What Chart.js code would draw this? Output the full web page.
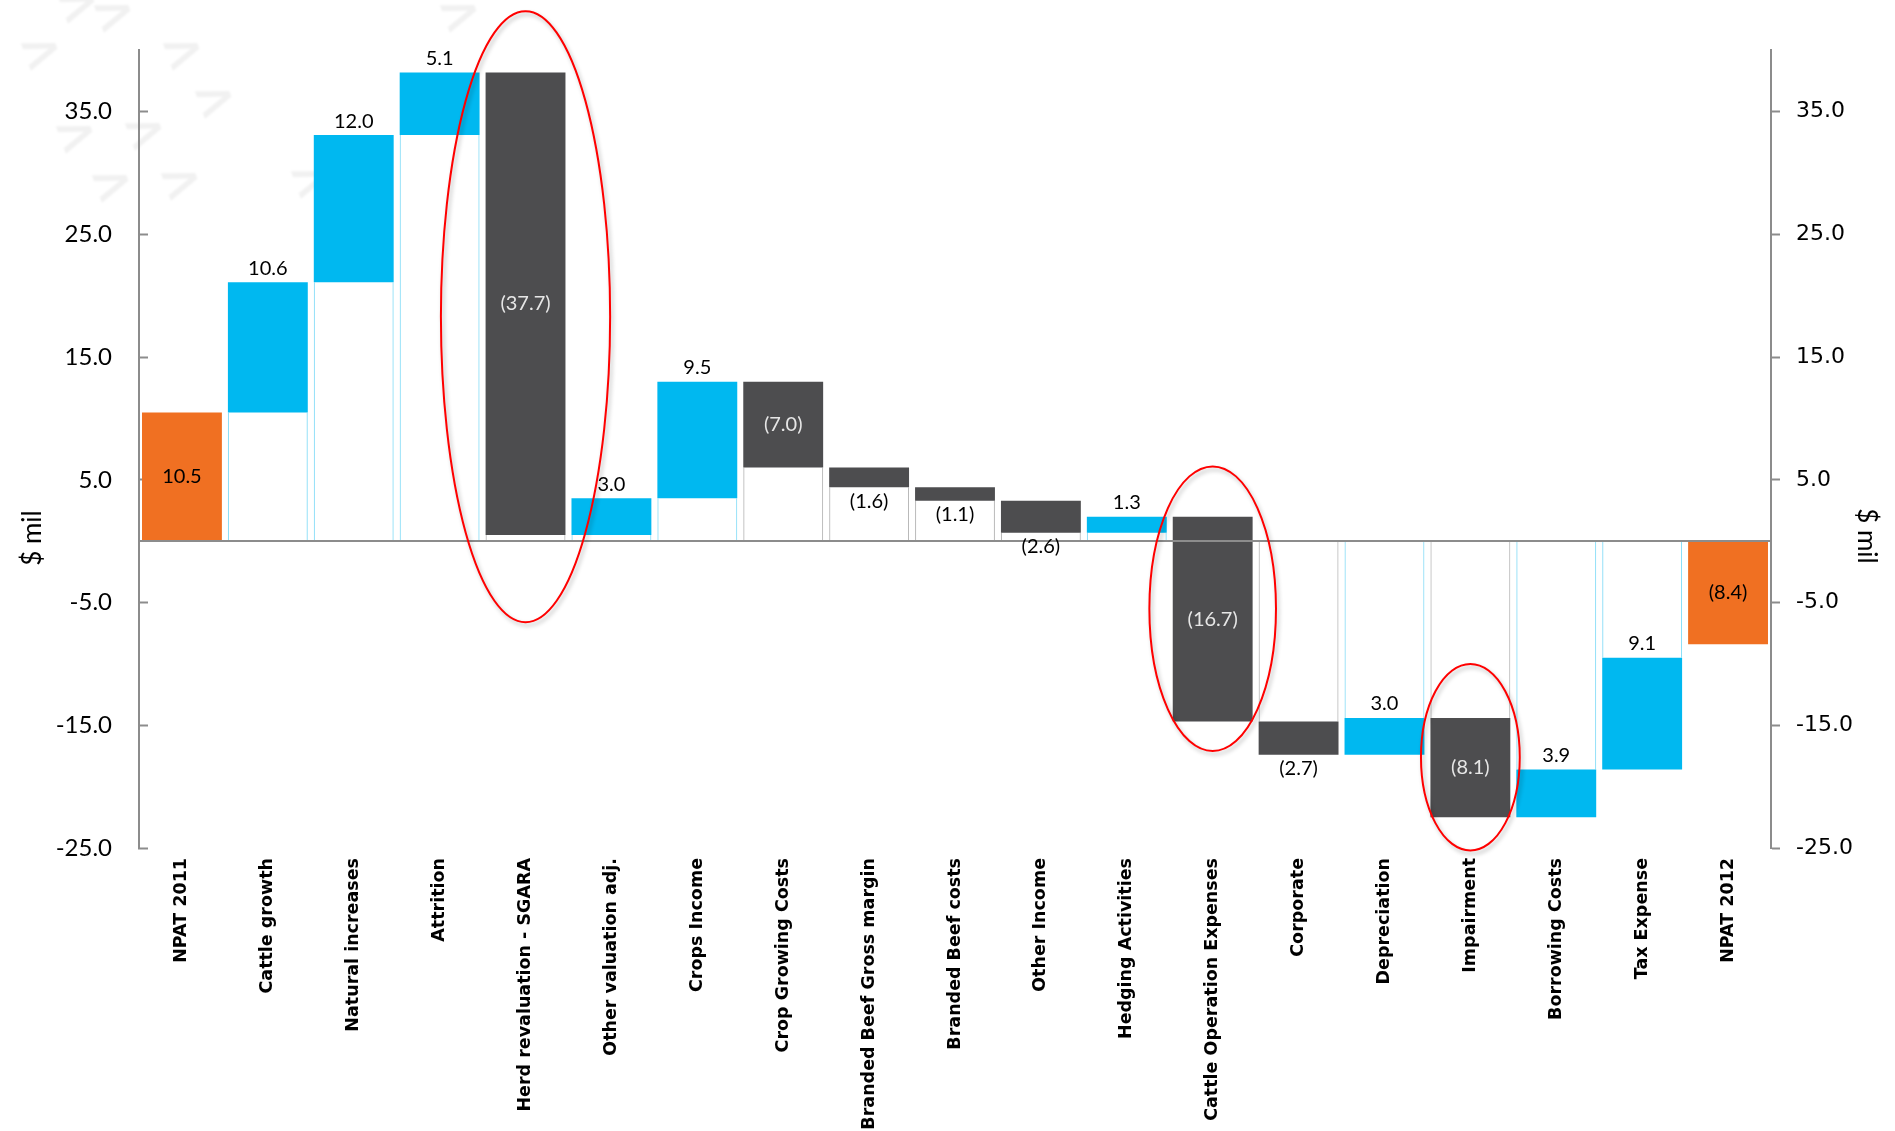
<!DOCTYPE html>
<html>
<head>
<meta charset="utf-8">
<title>NPAT bridge 2011 to 2012</title>
<script src="https://cdn.jsdelivr.net/npm/chart.js@4.4.1/dist/chart.umd.min.js"></script>
<style>
  html, body { margin: 0; padding: 0; background: #fff; }
  #wrap { width: 1895px; height: 1131px; position: relative; }
</style>
</head>
<body>
<div id="wrap"><canvas id="bridge" width="1895" height="1131"></canvas></div>
<script>
// ---- data ----
const categories = [
  'NPAT 2011', 'Cattle growth', 'Natural increases', 'Attrition',
  'Herd revaluation - SGARA', 'Other valuation adj.', 'Crops Income',
  'Crop Growing Costs', 'Branded Beef Gross margin', 'Branded Beef costs',
  'Other Income', 'Hedging Activities', 'Cattle Operation Expenses',
  'Corporate', 'Depreciation', 'Impairment', 'Borrowing Costs',
  'Tax Expense', 'NPAT 2012'
];
const changes = [10.5, 10.6, 12.0, 5.1, -37.7, 3.0, 9.5, -7.0, -1.6, -1.1,
                 -2.6, 1.3, -16.7, -2.7, 3.0, -8.1, 3.9, 9.1, -8.4];
const totalItems = ['NPAT 2011', 'NPAT 2012'];
const yTicks = [-25, -15, -5, 5, 15, 25, 35];
const yMin = -25;
const yMax = 40;
const axisTitle = '$ mil';

// items circled in red
const highlights = [
  { category: 'Herd revaluation - SGARA', from: 43.2, to: -6.6, halfWidth: 0.985 },
  { category: 'Cattle Operation Expenses', from: 6.1, to: -17.1, halfWidth: 0.737 },
  { category: 'Impairment', from: -10.0, to: -25.2, halfWidth: 0.575 }
];

// ---- styling ----
const COLORS = { total: '#F07022', up: '#00B8F0', down: '#4D4D4F' };
const AXIS_GREY = '#8c8c8c';
const chevrons = [[79, 7], [115, 16], [461, 16], [42, 54], [184, 54], [216, 102],
                  [77, 137], [146, 134], [113, 186], [182, 184], [312, 182]];

// ---- build the waterfall from the changes ----
const floating = [], bases = [], fills = [], baseEdges = [];
let running = 0;
categories.forEach((cat, i) => {
  const v = changes[i];
  if (totalItems.includes(cat)) {
    floating.push([0, v]);
    bases.push(null);
    fills.push(COLORS.total);
    baseEdges.push('rgba(0,0,0,0)');
    running = v;
  } else {
    const s = running, e = +(running + v).toFixed(2);
    floating.push([s, e]);
    running = e;
    fills.push(v >= 0 ? COLORS.up : COLORS.down);
    if (s >= 0 && e >= 0) bases.push([0, Math.min(s, e)]);
    else if (s <= 0 && e <= 0) bases.push([0, Math.max(s, e)]);
    else bases.push(null);
    baseEdges.push(v >= 0 ? 'rgba(0,184,240,0.5)' : 'rgba(110,110,110,0.5)');
  }
});

const fmt = v => v < 0 ? '(' + Math.abs(v).toFixed(1) + ')' : v.toFixed(1);

const decor = {
  id: 'decor',
  beforeDraw(chart) {
    const ctx = chart.ctx;
    ctx.save();
    ctx.fillStyle = '#fff';
    ctx.fillRect(0, 0, chart.width, chart.height);
    // faint watermark chevrons
    ctx.fillStyle = 'rgba(0,0,0,0.055)';
    ctx.font = 'bold 52px "DejaVu Sans"';
    ctx.textAlign = 'center';
    ctx.textBaseline = 'middle';
    ctx.filter = 'blur(1px)';
    chevrons.forEach(([x, y]) => {
      ctx.save();
      ctx.translate(x, y);
      ctx.rotate(-0.35);
      ctx.fillText('>', 0, 0);
      ctx.restore();
    });
    ctx.restore();
  },
  afterDatasetsDraw(chart) {
    const ctx = chart.ctx;
    const ys = chart.scales.y;
    const area = chart.chartArea;
    ctx.save();
    // zero line
    const y0 = Math.round(ys.getPixelForValue(0));
    ctx.strokeStyle = AXIS_GREY;
    ctx.lineWidth = 2;
    ctx.beginPath();
    ctx.moveTo(area.left, y0);
    ctx.lineTo(area.right, y0);
    ctx.stroke();

    // value labels
    const meta = chart.getDatasetMeta(0);
    ctx.font = '20px Lato';
    ctx.textAlign = 'center';
    meta.data.forEach((bar, i) => {
      const v = changes[i];
      const top = Math.min(bar.y, bar.base);
      const bot = Math.max(bar.y, bar.base);
      let y, color = '#000', baseline = 'middle';
      if (totalItems.includes(categories[i])) {
        y = (top + bot) / 2;
      } else if (v > 0) {
        y = top - 4; baseline = 'bottom';
      } else if (Math.abs(v) >= 5) {
        y = (top + bot) / 2; color = '#e6e6e6';
      } else {
        y = bot + 4; baseline = 'top';
      }
      ctx.fillStyle = color;
      ctx.textBaseline = baseline;
      ctx.fillText(fmt(v), bar.x, y);
    });
    ctx.restore();
  },
  afterDraw(chart) {
    const ctx = chart.ctx;
    const xs = chart.scales.x, ys = chart.scales.y;
    const step = xs.getPixelForValue(1) - xs.getPixelForValue(0);
    ctx.save();
    // red highlight ellipses
    ctx.strokeStyle = '#ff0000';
    ctx.lineWidth = 2;
    ctx.shadowColor = 'rgba(0,0,0,0.28)';
    ctx.shadowBlur = 4;
    ctx.shadowOffsetX = 2;
    ctx.shadowOffsetY = 3;
    highlights.forEach(h => {
      const cx = xs.getPixelForValue(categories.indexOf(h.category));
      const t = ys.getPixelForValue(h.from), b = ys.getPixelForValue(h.to);
      ctx.beginPath();
      ctx.ellipse(cx, (t + b) / 2, h.halfWidth * step, (b - t) / 2, 0, 0, Math.PI * 2);
      ctx.stroke();
    });
    ctx.restore();

    // axis titles
    [[33, 538, -Math.PI / 2], [1866, 536, Math.PI / 2]].forEach(([x, y, r]) => {
      ctx.save();
      ctx.fillStyle = '#000';
      ctx.font = '26px Lato';
      ctx.textAlign = 'center';
      ctx.textBaseline = 'middle';
      ctx.translate(x, y);
      ctx.rotate(r);
      ctx.fillText(axisTitle, 0, 0);
      ctx.restore();
    });
  }
};

const fixedTicks = scale => { scale.ticks = yTicks.map(v => ({ value: v })); };

new Chart(document.getElementById('bridge'), {
  type: 'bar',
  data: {
    labels: categories,
    datasets: [
      {
        label: 'Change',
        data: floating,
        backgroundColor: fills,
        borderWidth: 0,
        grouped: false,
        categoryPercentage: 1,
        barPercentage: 0.93
      },
      {
        label: 'Base',
        data: bases,
        backgroundColor: 'rgba(0,0,0,0)',
        borderColor: baseEdges,
        borderWidth: { left: 1, right: 1, top: 0, bottom: 0 },
        borderSkipped: false,
        grouped: false,
        categoryPercentage: 1,
        barPercentage: 0.93
      }
    ]
  },
  options: {
    responsive: false,
    animation: false,
    devicePixelRatio: 1,
    layout: { padding: { top: 48, left: 0, right: 0, bottom: 0 } },
    plugins: { legend: { display: false }, tooltip: { enabled: false } },
    scales: {
      x: {
        offset: true,
        grid: { display: false, drawTicks: false },
        border: { display: false },
        ticks: {
          autoSkip: false,
          minRotation: 90,
          maxRotation: 90,
          padding: 10,
          color: '#000',
          font: { family: '"DejaVu Sans"', weight: 'bold', size: 17.5 }
        },
        afterFit: s => { s.height = 283; }
      },
      y: {
        position: 'left',
        min: yMin,
        max: yMax,
        afterBuildTicks: fixedTicks,
        grid: { drawOnChartArea: false, color: AXIS_GREY, tickLength: -9, tickWidth: 2 },
        border: { display: true, color: AXIS_GREY, width: 2 },
        ticks: {
          padding: 36,
          color: '#000',
          font: { family: 'Lato', size: 24 },
          callback: v => Number(v).toFixed(1)
        },
        afterFit: s => { s.width = 139; }
      },
      y2: {
        position: 'right',
        min: yMin,
        max: yMax,
        afterBuildTicks: fixedTicks,
        grid: { drawOnChartArea: false, color: AXIS_GREY, tickLength: 9, tickWidth: 2 },
        border: { display: true, color: AXIS_GREY, width: 2 },
        ticks: {
          padding: 16,
          color: '#000',
          font: { family: '"DejaVu Sans"', size: 22 },
          callback: v => Number(v).toFixed(1)
        },
        afterFit: s => { s.width = 124; }
      }
    }
  },
  plugins: [decor]
});
</script>
</body>
</html>
